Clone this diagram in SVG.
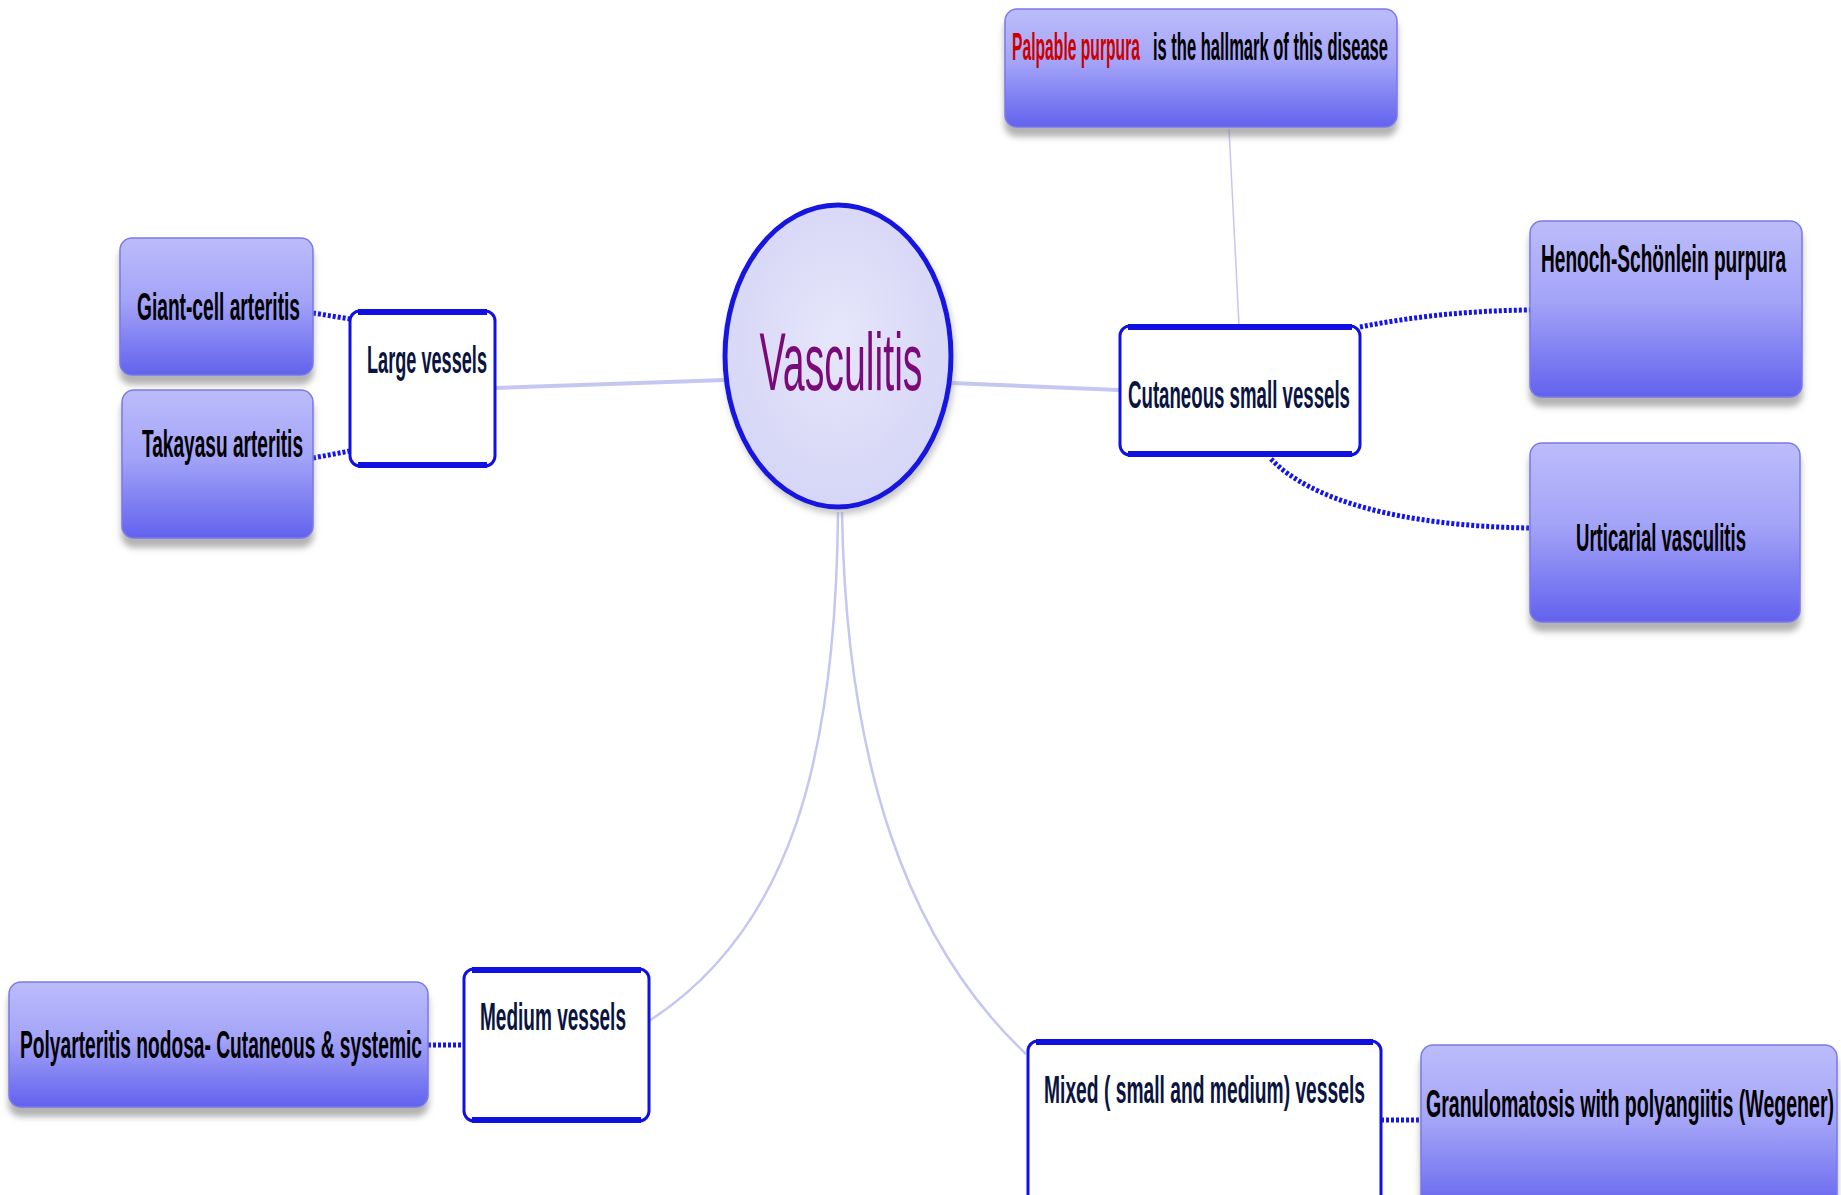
<svg xmlns="http://www.w3.org/2000/svg" width="1841" height="1195" viewBox="0 0 1841 1195">
<defs>
<linearGradient id="blueGrad" x1="0" y1="0" x2="0" y2="1">
<stop offset="0" stop-color="#bcbcfb"/>
<stop offset="0.45" stop-color="#a4a4f8"/>
<stop offset="1" stop-color="#6262ee"/>
</linearGradient>
<radialGradient id="circGrad" cx="0.5" cy="0.45" r="0.6">
<stop offset="0" stop-color="#e6e6fb"/>
<stop offset="1" stop-color="#d4d4f6"/>
</radialGradient>
<filter id="shadow" x="-10%" y="-10%" width="120%" height="130%">
<feDropShadow dx="0" dy="9" stdDeviation="3" flood-color="#808080" flood-opacity="0.6"/>
</filter>
<filter id="shadowSoft" x="-10%" y="-10%" width="120%" height="130%">
<feDropShadow dx="2" dy="5" stdDeviation="3" flood-color="#909090" flood-opacity="0.5"/>
</filter>
</defs>
<style>
.bbox{fill:url(#blueGrad);stroke:#7a7ae8;stroke-width:1.5;filter:url(#shadow);}
.wbox{fill:#ffffff;stroke:#1010e0;stroke-width:3;}
.edge{fill:none;stroke:#1010e0;stroke-width:6;}
.t{font-family:"Liberation Sans","Open Sans",sans-serif;font-size:38px;font-weight:bold;fill:#000000;}
.tw{font-family:"Liberation Sans","Open Sans",sans-serif;font-size:38px;font-weight:bold;fill:#0a1440;}
.thin{fill:none;stroke:#c6c6f2;stroke-width:2.5;}
.dot{fill:none;stroke:#1414ee;stroke-width:5;stroke-dasharray:3 2;}
</style>

<g id="connectors">
<path class="thin" d="M 495 388 L 725 380" style="stroke-width:4"/>
<path class="thin" d="M 951 383 L 1119 390" style="stroke-width:4"/>
<path class="thin" d="M 1229 129 L 1239 325" style="stroke-width:1.5"/>
<path class="thin" d="M 838 512 C 836 760, 790 930, 649 1021"/>
<path class="thin" d="M 842 512 C 846 760, 905 940, 1026 1054"/>
<path class="dot" d="M 313 313 L 350 319"/>
<path class="dot" d="M 313 458 L 350 451"/>
<path class="dot" d="M 1360 327 Q 1440 311 1530 310"/>
<path class="dot" d="M 1271 459 C 1310 500, 1400 526, 1530 528"/>
<path class="dot" d="M 428 1045 L 464 1045"/>
<path class="dot" d="M 1381 1120 L 1421 1120"/>
</g>

<g id="vasculitis">
<ellipse cx="838" cy="356" rx="113" ry="151" fill="url(#circGrad)" stroke="#1818e0" stroke-width="5" filter="url(#shadowSoft)"/>
<text transform="translate(841,390) scale(0.5,1)" x="0" y="0" text-anchor="middle" style="font-family:'Liberation Sans','Open Sans',sans-serif;font-size:82px;fill:#7a0a78" textLength="326" lengthAdjust="spacingAndGlyphs">Vasculitis</text>
</g>

<g id="palpable">
<rect class="bbox" x="1005" y="9" width="392" height="118" rx="12"/>
<text class="t" transform="translate(1012,60) scale(0.5,1)" x="0" y="0" style="fill:#cc0000" textLength="256" lengthAdjust="spacingAndGlyphs">Palpable purpura</text>
<text class="t" transform="translate(1153,60) scale(0.5,1)" x="0" y="0" textLength="470" lengthAdjust="spacingAndGlyphs">is the hallmark of this disease</text>
</g>

<g id="giant-cell">
<rect class="bbox" x="120" y="238" width="193" height="137" rx="12"/>
<text class="t" transform="translate(137,320) scale(0.5,1)" x="0" y="0" textLength="326" lengthAdjust="spacingAndGlyphs">Giant-cell arteritis</text>
</g>

<g id="takayasu">
<rect class="bbox" x="122" y="390" width="191" height="148" rx="12"/>
<text class="t" transform="translate(142,457) scale(0.5,1)" x="0" y="0" textLength="322" lengthAdjust="spacingAndGlyphs">Takayasu arteritis</text>
</g>

<g id="large-vessels">
<rect class="wbox" x="350" y="311" width="145" height="155" rx="10"/>
<path class="edge" d="M 358 312 L 487 312 M 358 465 L 487 465"/>
<text class="tw" transform="translate(367,373) scale(0.5,1)" x="0" y="0" textLength="240" lengthAdjust="spacingAndGlyphs">Large vessels</text>
</g>

<g id="cutaneous">
<rect class="wbox" x="1120" y="326" width="240" height="129" rx="10"/>
<path class="edge" d="M 1128 327 L 1352 327 M 1128 454 L 1352 454"/>
<text class="tw" transform="translate(1128,408) scale(0.5,1)" x="0" y="0" textLength="444" lengthAdjust="spacingAndGlyphs">Cutaneous small vessels</text>
</g>

<g id="henoch">
<rect class="bbox" x="1530" y="221" width="272" height="176" rx="12"/>
<text class="t" transform="translate(1541,272) scale(0.5,1)" x="0" y="0" textLength="490" lengthAdjust="spacingAndGlyphs">Henoch-Schönlein purpura</text>
</g>

<g id="urticarial">
<rect class="bbox" x="1530" y="443" width="270" height="179" rx="12"/>
<text class="t" transform="translate(1576,551) scale(0.5,1)" x="0" y="0" textLength="340" lengthAdjust="spacingAndGlyphs">Urticarial vasculitis</text>
</g>

<g id="medium-vessels">
<rect class="wbox" x="464" y="969" width="185" height="152" rx="10"/>
<path class="edge" d="M 472 970 L 641 970 M 472 1120 L 641 1120"/>
<text class="tw" transform="translate(480,1030) scale(0.5,1)" x="0" y="0" textLength="292" lengthAdjust="spacingAndGlyphs">Medium vessels</text>
</g>

<g id="polyarteritis">
<rect class="bbox" x="9" y="982" width="419" height="125" rx="12"/>
<text class="t" transform="translate(20,1058) scale(0.5,1)" x="0" y="0" textLength="804" lengthAdjust="spacingAndGlyphs">Polyarteritis nodosa- Cutaneous &amp; systemic</text>
</g>

<g id="mixed-vessels">
<rect class="wbox" x="1028" y="1041" width="353" height="170" rx="10"/>
<path class="edge" d="M 1036 1042 L 1373 1042"/>
<text class="tw" transform="translate(1044,1103) scale(0.5,1)" x="0" y="0" textLength="642" lengthAdjust="spacingAndGlyphs">Mixed ( small and medium) vessels</text>
</g>

<g id="granulomatosis">
<rect class="bbox" x="1421" y="1045" width="416" height="170" rx="12"/>
<text class="t" transform="translate(1426,1117) scale(0.5,1)" x="0" y="0" textLength="816" lengthAdjust="spacingAndGlyphs">Granulomatosis with polyangiitis (Wegener)</text>
</g>
</svg>
